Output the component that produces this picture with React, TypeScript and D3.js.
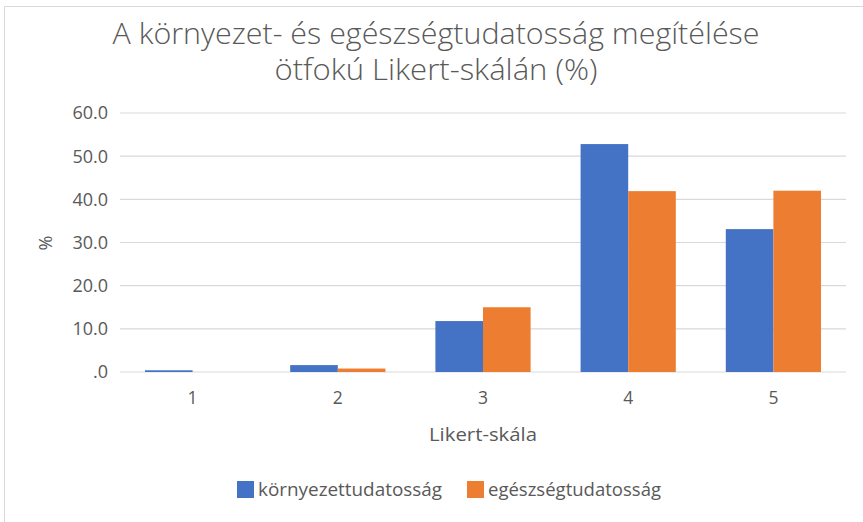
import React from "react";
import * as d3 from "d3";

const categories = ["1", "2", "3", "4", "5"];
const seriesNames = ["környezettudatosság", "egészségtudatosság"];
const kornyezet = [0.4, 1.6, 11.8, 52.8, 33.1];
const egeszseg = [0.0, 0.8, 15.0, 41.9, 42.0];
const yTicks = [0, 10, 20, 30, 40, 50, 60];
const colors = ["#4472C4", "#ED7D31"];

const W = 863, H = 522;
const M = { left: 120, right: 846, top: 113, bottom: 372 };
const FONT = "'Open Sans', 'Liberation Sans', sans-serif";
const GREY = "#595959";

export default function App() {
  const x = d3.scaleBand<string>().domain(categories).range([M.left, M.right]).paddingInner(0).paddingOuter(0);
  const bw = x.bandwidth();
  const barW = bw / 3.05;
  const x1 = d3.scaleBand<string>().domain(seriesNames).range([(bw - 2 * barW) / 2, (bw + 2 * barW) / 2]);
  const y = d3.scaleLinear().domain([0, 60]).range([M.bottom, M.top]);
  const series = [kornyezet, egeszseg];
  const fmt = (v: number) => (v === 0 ? ".0" : d3.format(".1f")(v));

  return (
    <svg width={W} height={H} style={{ position: "absolute", left: 0, top: 0 }}>
      <rect x={0} y={0} width={W} height={H} fill="#fff" />
      <line x1={4.5} x2={W} y1={6.5} y2={6.5} stroke="#d9d9d9" />
      <line x1={4.5} x2={4.5} y1={6.5} y2={H} stroke="#d9d9d9" />
      <text x={436} y={44} textAnchor="middle" fontFamily={FONT} fontWeight={300} fontSize={29} fill={GREY}
        textLength={647} lengthAdjust="spacingAndGlyphs">
        A környezet- és egészségtudatosság megítélése
      </text>
      <text x={436} y={80} textAnchor="middle" fontFamily={FONT} fontWeight={300} fontSize={29} fill={GREY}
        textLength={323} lengthAdjust="spacingAndGlyphs">
        ötfokú Likert-skálán (%)
      </text>
      {yTicks.map((t) => (
        <g key={t}>
          <line x1={M.left} x2={M.right} y1={y(t)} y2={y(t)} stroke="#d9d9d9" strokeWidth={1.2} />
          <text x={108} y={y(t)} dy="0.36em" textAnchor="end" fontFamily={FONT} fontSize={18} fill={GREY}>
            {fmt(t)}
          </text>
        </g>
      ))}
      {categories.map((c, i) => (
        <g key={c}>
          {series.map((s, j) => {
            const h = M.bottom - y(s[i]);
            return (
              <rect
                key={j}
                x={(x(c) as number) + (x1(seriesNames[j]) as number)}
                y={y(s[i])}
                width={x1.bandwidth()}
                height={h}
                fill={colors[j]}
              />
            );
          })}
          <text x={(x(c) as number) + bw / 2} y={404} textAnchor="middle" fontFamily={FONT} fontSize={17.5} fill={GREY}>
            {c}
          </text>
        </g>
      ))}
      <text transform="translate(52,243) rotate(-90)" textAnchor="middle" fontFamily={FONT} fontSize={18} fill={GREY}>
        %
      </text>
      <text x={483} y={441} textAnchor="middle" fontFamily={FONT} fontSize={18.5} fill={GREY}
        textLength={108} lengthAdjust="spacingAndGlyphs">
        Likert-skála
      </text>
      {seriesNames.map((n, j) => {
        const lx = j === 0 ? 237 : 467;
        const tl = j === 0 ? 184 : 173;
        return (
          <g key={n}>
            <rect x={lx} y={481} width={17} height={17} fill={colors[j]} />
            <text x={lx + 21} y={496} fontFamily={FONT} fontSize={18.5} fill={GREY}
              textLength={tl} lengthAdjust="spacingAndGlyphs">
              {n}
            </text>
          </g>
        );
      })}
    </svg>
  );
}
